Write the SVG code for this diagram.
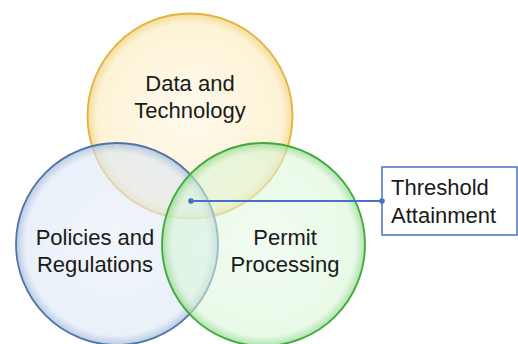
<svg xmlns="http://www.w3.org/2000/svg" width="518" height="344" viewBox="0 0 518 344">
<defs>
<radialGradient id="gy" cx="0.5" cy="0.5" r="0.5">
<stop offset="0" stop-color="#FFF8E6" stop-opacity="0.75"/>
<stop offset="0.9" stop-color="#FCEFC8" stop-opacity="0.75"/>
<stop offset="1" stop-color="#F3D58A" stop-opacity="0.85"/>
</radialGradient>
<radialGradient id="gb" cx="0.5" cy="0.5" r="0.5">
<stop offset="0" stop-color="#E8EFF9" stop-opacity="0.6"/>
<stop offset="0.9" stop-color="#DCE7F5" stop-opacity="0.6"/>
<stop offset="1" stop-color="#9DB8DA" stop-opacity="0.75"/>
</radialGradient>
<radialGradient id="gg" cx="0.5" cy="0.5" r="0.5">
<stop offset="0" stop-color="#E6FAE4" stop-opacity="0.55"/>
<stop offset="0.9" stop-color="#D8F5D5" stop-opacity="0.55"/>
<stop offset="1" stop-color="#8FD88A" stop-opacity="0.75"/>
</radialGradient>
</defs>
<style>
.lbl{font-family:"Liberation Sans",Arial,sans-serif;font-size:22px;fill:#1a1a1a}
.c{stroke-width:1.8}
</style>
<rect width="518" height="344" fill="#ffffff"/>
<g id="data-technology">
<circle class="c" cx="190" cy="116" r="102.5" fill="url(#gy)" stroke="#E3B33A"/>
<text class="lbl" text-anchor="middle" x="190" y="91">Data and</text>
<text class="lbl" text-anchor="middle" x="190" y="118">Technology</text>
</g>
<g id="policies-regulations">
<circle class="c" cx="117" cy="244" r="101" fill="url(#gb)" stroke="#4F74A8"/>
<text class="lbl" text-anchor="middle" x="95" y="245">Policies and</text>
<text class="lbl" text-anchor="middle" x="95" y="272">Regulations</text>
</g>
<g id="permit-processing">
<circle class="c" cx="263.5" cy="244.5" r="101.5" fill="url(#gg)" stroke="#3DAA3A"/>
<text class="lbl" text-anchor="middle" x="285" y="245">Permit</text>
<text class="lbl" text-anchor="middle" x="285" y="272">Processing</text>
</g>
<g id="threshold-attainment">
<rect x="382" y="167" width="135" height="68" fill="#ffffff" stroke="#4472C4" stroke-width="1.5"/>
<text class="lbl" x="391" y="195">Threshold</text>
<text class="lbl" x="391" y="223">Attainment</text>
</g>
<g id="connectors">
<line x1="191" y1="201" x2="382" y2="201" stroke="#4472C4" stroke-width="2"/>
<circle cx="191" cy="201" r="2.8" fill="#4472C4"/>
<circle cx="382" cy="201" r="2.8" fill="#4472C4"/>
</g>
</svg>
